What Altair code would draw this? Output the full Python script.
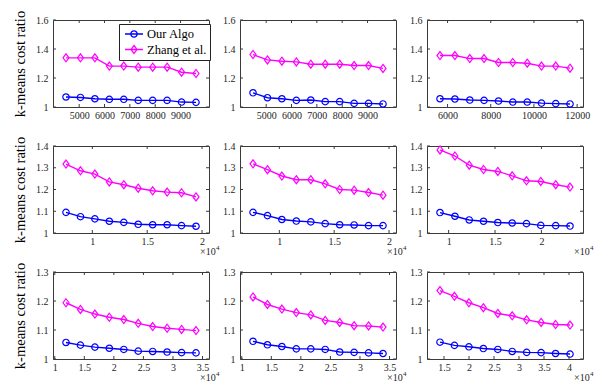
import altair as alt
import pandas as pd

SERIES = ["Our Algo", "Zhang et al."]
COLORS = ["#0000ff", "#ff00ff"]

# ---- Row 1 (x in raw units) ----
r1c1_x = [4480, 5050, 5620, 6190, 6760, 7330, 7900, 8470, 9040, 9610]
r1c1_ours = [1.069, 1.066, 1.057, 1.053, 1.053, 1.046, 1.046, 1.046, 1.034, 1.032]
r1c1_zhang = [1.339, 1.339, 1.339, 1.282, 1.282, 1.275, 1.275, 1.275, 1.240, 1.231]

r1c2_x = [4480, 5050, 5620, 6190, 6760, 7330, 7900, 8470, 9040, 9610]
r1c2_ours = [1.098, 1.064, 1.057, 1.046, 1.048, 1.037, 1.037, 1.025, 1.025, 1.021]
r1c2_zhang = [1.362, 1.325, 1.316, 1.311, 1.295, 1.295, 1.295, 1.286, 1.286, 1.266]

r1c3_x = [5650, 6340, 7030, 7690, 8360, 9020, 9690, 10350, 11010, 11670]
r1c3_ours = [1.057, 1.055, 1.048, 1.046, 1.041, 1.034, 1.034, 1.027, 1.023, 1.021]
r1c3_zhang = [1.355, 1.355, 1.334, 1.334, 1.307, 1.307, 1.302, 1.282, 1.282, 1.268]

# ---- Row 2 (x in units of 10^4) ----
r2c1_x = [0.760, 0.892, 1.023, 1.155, 1.287, 1.418, 1.550, 1.682, 1.813, 1.945]
r2c1_ours = [1.095, 1.075, 1.065, 1.054, 1.049, 1.040, 1.038, 1.038, 1.034, 1.031]
r2c1_zhang = [1.317, 1.286, 1.271, 1.235, 1.222, 1.206, 1.194, 1.188, 1.185, 1.166]

r2c2_x = [0.760, 0.892, 1.023, 1.155, 1.287, 1.418, 1.550, 1.682, 1.813, 1.945]
r2c2_ours = [1.095, 1.080, 1.062, 1.055, 1.051, 1.043, 1.038, 1.037, 1.034, 1.034]
r2c2_zhang = [1.318, 1.291, 1.262, 1.245, 1.245, 1.226, 1.200, 1.197, 1.186, 1.174]

r2c3_x = [0.907, 1.068, 1.222, 1.376, 1.530, 1.685, 1.839, 1.993, 2.154, 2.308]
r2c3_ours = [1.094, 1.077, 1.060, 1.054, 1.048, 1.046, 1.043, 1.035, 1.034, 1.032]
r2c3_zhang = [1.382, 1.354, 1.312, 1.292, 1.283, 1.263, 1.240, 1.237, 1.222, 1.211]

# ---- Row 3 (x in units of 10^4) ----
r3c1_x = [1.190, 1.434, 1.679, 1.923, 2.168, 2.412, 2.657, 2.901, 3.146, 3.390]
r3c1_ours = [1.057, 1.048, 1.041, 1.037, 1.033, 1.027, 1.026, 1.024, 1.022, 1.021]
r3c1_zhang = [1.194, 1.171, 1.155, 1.144, 1.136, 1.123, 1.112, 1.106, 1.102, 1.098]

r3c2_x = [1.190, 1.434, 1.679, 1.923, 2.168, 2.412, 2.657, 2.901, 3.146, 3.390]
r3c2_ours = [1.061, 1.049, 1.043, 1.035, 1.035, 1.033, 1.024, 1.023, 1.021, 1.019]
r3c2_zhang = [1.214, 1.188, 1.172, 1.160, 1.152, 1.133, 1.126, 1.115, 1.114, 1.110]

r3c3_x = [1.420, 1.709, 1.998, 2.287, 2.576, 2.864, 3.153, 3.442, 3.731, 4.020]
r3c3_ours = [1.058, 1.047, 1.042, 1.036, 1.033, 1.026, 1.023, 1.022, 1.019, 1.017]
r3c3_zhang = [1.236, 1.216, 1.194, 1.177, 1.157, 1.149, 1.135, 1.126, 1.119, 1.117]

# ---- ticks / domains ----
y_ticks_r1 = [1, 1.2, 1.4, 1.6]
y_ticks_r2 = [1, 1.1, 1.2, 1.3, 1.4]
y_ticks_r3 = [1, 1.1, 1.2, 1.3]
y_dom_r1 = [1, 1.6]
y_dom_r2 = [1, 1.4]
y_dom_r3 = [1, 1.3]
x_ticks_r1 = [5000, 6000, 7000, 8000, 9000]
x_ticks_r1c3 = [6000, 8000, 10000, 12000]
x_ticks_r2 = [1, 1.5, 2]
x_ticks_r3 = [1, 1.5, 2, 2.5, 3, 3.5]
x_ticks_r3c3 = [1.5, 2, 2.5, 3, 3.5, 4]

W, H = 156, 87
TICK = 3
AX = "#3a3a3a"
LBL = "#262626"
FONT = "Liberation Serif"

CIRCLE = "M-0.8,0A0.8,0.8,0,1,1,0.8,0A0.8,0.8,0,1,1,-0.8,0Z"
DIAMOND = "M0,-1L0.75,0L0,1L-0.75,0Z"
LEG_CIRCLE = "M-1.5,0L1.5,0M-0.53,0A0.53,0.53,0,1,1,0.53,0A0.53,0.53,0,1,1,-0.53,0"
LEG_DIAMOND = "M-1.5,0L1.5,0M0,-0.67L0.5,0L0,0.67L-0.5,0Z"

LEGEND = alt.Legend(
    orient="none", legendX=66, legendY=4, title=None, direction="vertical",
    fillColor="white", strokeColor="#222222", padding=3, rowPadding=1.5,
    symbolOffset=5, symbolSize=144, symbolStrokeWidth=1.3, symbolFillColor="transparent",
    symbolType=alt.ExprRef(expr="datum.value === 'Our Algo' ? '" + LEG_CIRCLE + "' : '" + LEG_DIAMOND + "'"),
    labelFont=FONT, labelFontSize=12.5, labelColor="black", labelOffset=6,
)


def panel(xs, ours, zhang, xticks, xfmt, yticks, ydom, ytitle=False, legend=False, x10=False):
    n = len(xs)
    df = pd.DataFrame({
        "x": list(xs) + list(xs),
        "y": list(ours) + list(zhang),
        "series": [SERIES[0]] * n + [SERIES[1]] * n,
    })
    span = max(xs) - min(xs)
    xsc = alt.Scale(domain=[min(xs) - 0.1 * span, max(xs) + 0.1 * span], nice=False, zero=False)
    ysc = alt.Scale(domain=ydom, nice=False, zero=False)
    xax = alt.Axis(values=xticks, format=xfmt, title=None, ticks=False, domain=False, grid=False,
                   labelPadding=3, labelFlush=False, labelOverlap=False)
    ykw = dict(values=yticks, format=".1~f", ticks=False, domain=False, grid=False,
               labelPadding=5, labelOverlap=False)
    if ytitle:
        ykw.update(title="k-means cost ratio", titlePadding=8)
    else:
        ykw.update(title=None)
    yax = alt.Axis(**ykw)
    X = alt.X("x:Q", scale=xsc, axis=xax)
    Y = alt.Y("y:Q", scale=ysc, axis=yax)
    base = alt.Chart(df)
    line = base.mark_line(strokeWidth=1.4).encode(
        x=X, y=Y,
        color=alt.Color("series:N", scale=alt.Scale(domain=SERIES, range=COLORS),
                        legend=LEGEND if legend else None),
    )
    pts = []
    for name, col, shp in zip(SERIES, COLORS, [CIRCLE, DIAMOND]):
        pts.append(
            base.transform_filter(alt.datum.series == name)
            .mark_point(filled=False, strokeWidth=1.2, size=64, opacity=1, shape=shp, color=col)
            .encode(x=X, y=Y)
        )
    xt = alt.Chart(pd.DataFrame({"x": xticks}))
    yt = alt.Chart(pd.DataFrame({"y": yticks}))
    xb = xt.mark_rule(color=AX, strokeWidth=1).encode(
        x=alt.X("x:Q", scale=xsc, axis=xax), y=alt.value(H), y2=alt.value(H - TICK))
    xtp = xt.mark_rule(color=AX, strokeWidth=1).encode(
        x=alt.X("x:Q", scale=xsc, axis=xax), y=alt.value(0), y2=alt.value(TICK))
    yl = yt.mark_rule(color=AX, strokeWidth=1).encode(
        y=alt.Y("y:Q", scale=ysc, axis=yax), x=alt.value(0), x2=alt.value(TICK))
    yr = yt.mark_rule(color=AX, strokeWidth=1).encode(
        y=alt.Y("y:Q", scale=ysc, axis=yax), x=alt.value(W), x2=alt.value(W - TICK))
    layers = [line] + pts + [xb, xtp, yl, yr]
    if x10:
        t = alt.Chart(pd.DataFrame({"t": ["×10"], "e": ["4"]}))
        layers.append(t.mark_text(align="left", baseline="middle", font=FONT, fontSize=10, color=LBL)
                      .encode(x=alt.value(W - 9), y=alt.value(H + 19), text="t:N"))
        layers.append(t.mark_text(align="left", baseline="middle", font=FONT, fontSize=7, color=LBL)
                      .encode(x=alt.value(W + 7), y=alt.value(H + 15), text="e:N"))
    return alt.layer(*layers).properties(width=W, height=H)


panels = [
    panel(r1c1_x, r1c1_ours, r1c1_zhang, x_ticks_r1, "d", y_ticks_r1, y_dom_r1, ytitle=True, legend=True),
    panel(r1c2_x, r1c2_ours, r1c2_zhang, x_ticks_r1, "d", y_ticks_r1, y_dom_r1),
    panel(r1c3_x, r1c3_ours, r1c3_zhang, x_ticks_r1c3, "d", y_ticks_r1, y_dom_r1),
    panel(r2c1_x, r2c1_ours, r2c1_zhang, x_ticks_r2, ".1~f", y_ticks_r2, y_dom_r2, ytitle=True, x10=True),
    panel(r2c2_x, r2c2_ours, r2c2_zhang, x_ticks_r2, ".1~f", y_ticks_r2, y_dom_r2, x10=True),
    panel(r2c3_x, r2c3_ours, r2c3_zhang, x_ticks_r2, ".1~f", y_ticks_r2, y_dom_r2, x10=True),
    panel(r3c1_x, r3c1_ours, r3c1_zhang, x_ticks_r3, ".1~f", y_ticks_r3, y_dom_r3, ytitle=True, x10=True),
    panel(r3c2_x, r3c2_ours, r3c2_zhang, x_ticks_r3, ".1~f", y_ticks_r3, y_dom_r3, x10=True),
    panel(r3c3_x, r3c3_ours, r3c3_zhang, x_ticks_r3c3, ".1~f", y_ticks_r3, y_dom_r3, x10=True),
]

chart = alt.concat(
    *panels, columns=3, spacing={"row": 39, "column": 31}, bounds="flush"
).resolve_scale(
    color="independent"
).properties(
    padding={"left": 4, "top": 1, "right": 2, "bottom": 2},
    background="white",
).configure_view(
    stroke=AX, strokeWidth=1
).configure_axis(
    labelFont=FONT, labelFontSize=10, labelColor=LBL,
    titleFont=FONT, titleFontSize=14.5, titleFontWeight="normal", titleColor="black",
)

chart.save("out.html", embed_options={"renderer": "svg", "actions": False})
